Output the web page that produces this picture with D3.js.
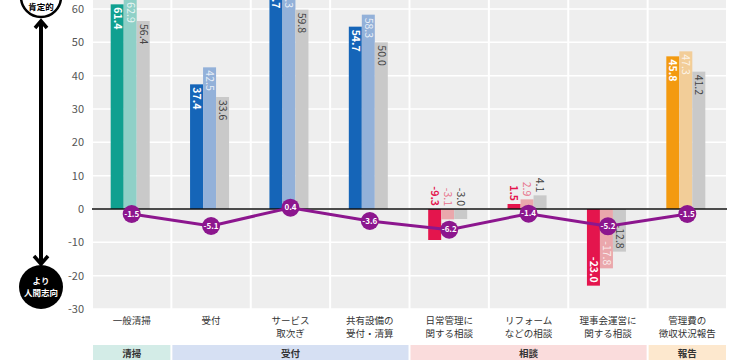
<!DOCTYPE html>
<html>
<head>
<meta charset="utf-8">
<script src="https://cdn.jsdelivr.net/npm/d3@7"></script>
<style>
  body { margin: 0; background: #fff; }
  svg { display: block; font-family: "Noto Sans CJK JP", "Noto Sans", sans-serif; }
</style>
</head>
<body>
<div id="chart"></div>
<script>
// categories (two-line labels) and their group index
var categories = ["一般清掃", "受付", "サービス取次ぎ", "共有設備の受付・清算", "日常管理に関する相談", "リフォームなどの相談", "理事会運営に関する相談", "管理費の徴収状況報告"];
var catLine1 = ["一般清掃", "受付", "サービス", "共有設備の", "日常管理に", "リフォーム", "理事会運営に", "管理費の"];
var catLine2 = ["", "", "取次ぎ", "受付・清算", "関する相談", "などの相談", "関する相談", "徴収状況報告"];
var catGroup = [0, 1, 1, 1, 2, 2, 2, 3];

// groups shown in the bottom band
var groupNames = ["清掃", "受付", "相談", "報告"];
var groupFirst = [0, 1, 4, 7];
var groupLast  = [0, 3, 6, 7];

// three bar series + the purple difference line
var seriesA = [61.4, 37.4, 67.7, 54.7, -9.3, 1.5, -23.0, 45.8];
var seriesB = [62.9, 42.5, 67.3, 58.3, -3.1, 2.9, -17.8, 47.3];
var seriesC = [56.4, 33.6, 59.8, 50.0, -3.0, 4.1, -12.8, 41.2];
var diff    = [-1.5, -5.1, 0.4, -3.6, -6.2, -1.4, -5.2, -1.5];

var yTicks = [60, 50, 40, 30, 20, 10, 0, -10, -20, -30];

// colours per group
var mainColor  = ["#10a090", "#1565b8", "#e4154d", "#f39a10"];
var lightColor = ["#8fd0c7", "#93b1d9", "#eaa7ac", "#f2cd98"];
var bandColor  = ["#d3ece7", "#d6e0f3", "#fadcdc", "#fde8ce"];
var grayBar = "#c9c9c9";
var purple = "#8c168e";

var width = 750, height = 360;
var left = 92, right = 727;

var svg = d3.select("#chart").append("svg")
    .attr("width", width)
    .attr("height", height);

var x = d3.scaleBand().domain(d3.range(categories.length)).range([left, right]);
var y = d3.scaleLinear().domain([-30, 60]).range([309, 9]);
var x1 = d3.scaleBand().domain([0, 1, 2])
    .range([x.bandwidth() / 2 - 21, x.bandwidth() / 2 + 18]);

// column backgrounds
svg.append("g").selectAll("rect")
  .data(categories).enter().append("rect")
    .attr("x", function(d, i) { return x(i) + 1; })
    .attr("width", x.bandwidth() - 2)
    .attr("y", 0)
    .attr("height", y(-30))
    .attr("fill", "#eeeeee");

// horizontal grid
svg.append("g").selectAll("line")
  .data(yTicks.concat([70])).enter().append("line")
    .attr("x1", left).attr("x2", right)
    .attr("y1", function(d) { return y(d); })
    .attr("y2", function(d) { return y(d); })
    .attr("stroke", "#fff")
    .attr("stroke-width", 1.5);

// y tick labels
svg.append("g").selectAll("text")
  .data(yTicks).enter().append("text")
    .attr("x", 84)
    .attr("y", function(d) { return y(d); })
    .attr("dy", "0.35em")
    .attr("text-anchor", "end")
    .attr("font-size", 11)
    .attr("fill", "#555")
    .text(function(d) { return d; });

// bars
var allSeries = [seriesA, seriesB, seriesC];
function barColor(s, i) {
  if (s == 0) return mainColor[catGroup[i]];
  if (s == 1) return lightColor[catGroup[i]];
  return grayBar;
}
var bars = svg.append("g");
allSeries.forEach(function(vals, s) {
  bars.selectAll(".b" + s)
    .data(vals).enter().append("rect")
      .attr("class", "b" + s)
      .attr("x", function(d, i) { return x(i) + x1(s); })
      .attr("width", x1.bandwidth())
      .attr("y", function(d) { return y(Math.max(0, d)); })
      .attr("height", function(d) { return Math.abs(y(d) - y(0)); })
      .attr("fill", function(d, i) { return barColor(s, i); });
});

// zero line
svg.append("line")
    .attr("x1", left).attr("x2", right)
    .attr("y1", y(0)).attr("y2", y(0))
    .attr("stroke", "#111")
    .attr("stroke-width", 1.5);

// value labels, rotated to read top-to-bottom
var labels = svg.append("g");
allSeries.forEach(function(vals, s) {
  labels.selectAll(".l" + s)
    .data(vals).enter().append("text")
      .attr("class", "l" + s)
      .attr("transform", function(d, i) {
        var cx = x(i) + x1(s) + x1.bandwidth() / 2;
        var ty;
        if (d >= 10) ty = y(d) + 3;          // inside, from top
        else if (d <= -10) ty = y(d) - 3;    // inside, ending at bottom
        else ty = y(Math.max(0, d)) - 3;     // outside, above
        return "translate(" + cx + "," + ty + ") rotate(90)";
      })
      .attr("text-anchor", function(d) { return d >= 10 ? "start" : "end"; })
      .attr("dy", "0.35em")
      .attr("font-size", 10.5)
      .attr("font-weight", s == 0 ? "bold" : "normal")
      .attr("fill", function(d, i) {
        var inside = Math.abs(d) >= 10;
        if (s == 0) return inside ? "#fff" : mainColor[catGroup[i]];
        if (s == 1) return inside ? "rgba(255,255,255,0.8)" : "#e8738c";
        return "#444";
      })
      .text(function(d) { return d.toFixed(1); });
});

// difference line
var line = d3.line()
    .x(function(d, i) { return x(i) + x.bandwidth() / 2; })
    .y(function(d) { return y(d); });

svg.append("path")
    .datum(diff)
    .attr("d", line)
    .attr("fill", "none")
    .attr("stroke", purple)
    .attr("stroke-width", 3);

var dots = svg.append("g").selectAll("g")
  .data(diff).enter().append("g")
    .attr("transform", function(d, i) {
      return "translate(" + (x(i) + x.bandwidth() / 2) + "," + y(d) + ")";
    });
dots.append("circle").attr("r", 9).attr("fill", purple);
dots.append("text")
    .attr("text-anchor", "middle")
    .attr("dy", "0.35em")
    .attr("font-size", 8)
    .attr("font-weight", "bold")
    .attr("fill", "#fff")
    .text(function(d) { return d.toFixed(1); });

// category labels, one text per line
var catG = svg.append("g")
    .attr("font-size", 9.5)
    .attr("fill", "#333")
    .attr("text-anchor", "middle");
catG.selectAll(".c1")
  .data(catLine1).enter().append("text")
    .attr("class", "c1")
    .attr("x", function(d, i) { return x(i) + x.bandwidth() / 2; })
    .attr("y", 324)
    .text(function(d) { return d; });
catG.selectAll(".c2")
  .data(catLine2).enter().append("text")
    .attr("class", "c2")
    .attr("x", function(d, i) { return x(i) + x.bandwidth() / 2; })
    .attr("y", 337)
    .text(function(d) { return d; });

// group bands
var band = svg.append("g").selectAll("g")
  .data(groupNames).enter().append("g");
band.append("rect")
    .attr("x", function(d, g) { return x(groupFirst[g]) + 1; })
    .attr("width", function(d, g) { return x(groupLast[g]) + x.bandwidth() - x(groupFirst[g]) - 2; })
    .attr("y", 345)
    .attr("height", 20)
    .attr("fill", function(d, g) { return bandColor[g]; });
band.append("text")
    .attr("x", function(d, g) { return (x(groupFirst[g]) + x(groupLast[g]) + x.bandwidth()) / 2; })
    .attr("y", 354)
    .attr("dy", "0.35em")
    .attr("text-anchor", "middle")
    .attr("font-size", 9.5)
    .attr("font-weight", "bold")
    .attr("fill", "#333")
    .text(function(d) { return d; });

// left double arrow
var ax = 41;
var arrow = svg.append("g");
arrow.append("line")
    .attr("x1", ax).attr("x2", ax)
    .attr("y1", 22).attr("y2", 262)
    .attr("stroke", "#000").attr("stroke-width", 4);
arrow.append("path")
    .attr("d", "M" + (ax - 6) + ",28 L" + ax + ",21 L" + (ax + 6) + ",28")
    .attr("fill", "none").attr("stroke", "#000").attr("stroke-width", 3.5);
arrow.append("path")
    .attr("d", "M" + (ax - 7) + ",256 L" + ax + ",264 L" + (ax + 7) + ",256")
    .attr("fill", "none").attr("stroke", "#000").attr("stroke-width", 3.5);

arrow.append("circle")
    .attr("cx", ax).attr("cy", -3).attr("r", 20)
    .attr("fill", "#fff").attr("stroke", "#000").attr("stroke-width", 2.5);
arrow.append("text")
    .attr("x", ax).attr("y", -2)
    .attr("text-anchor", "middle").attr("font-size", 8.5).attr("font-weight", "bold")
    .text("より");
arrow.append("text")
    .attr("x", ax).attr("y", 10)
    .attr("text-anchor", "middle").attr("font-size", 8.5).attr("font-weight", "bold")
    .text("肯定的");

arrow.append("circle")
    .attr("cx", ax).attr("cy", 287).attr("r", 22)
    .attr("fill", "#000");
arrow.append("text")
    .attr("x", ax).attr("y", 284)
    .attr("text-anchor", "middle").attr("font-size", 8.5).attr("font-weight", "bold")
    .attr("fill", "#fff")
    .text("より");
arrow.append("text")
    .attr("x", ax).attr("y", 296)
    .attr("text-anchor", "middle").attr("font-size", 8.5).attr("font-weight", "bold")
    .attr("fill", "#fff")
    .text("人間志向");
</script>
</body>
</html>
